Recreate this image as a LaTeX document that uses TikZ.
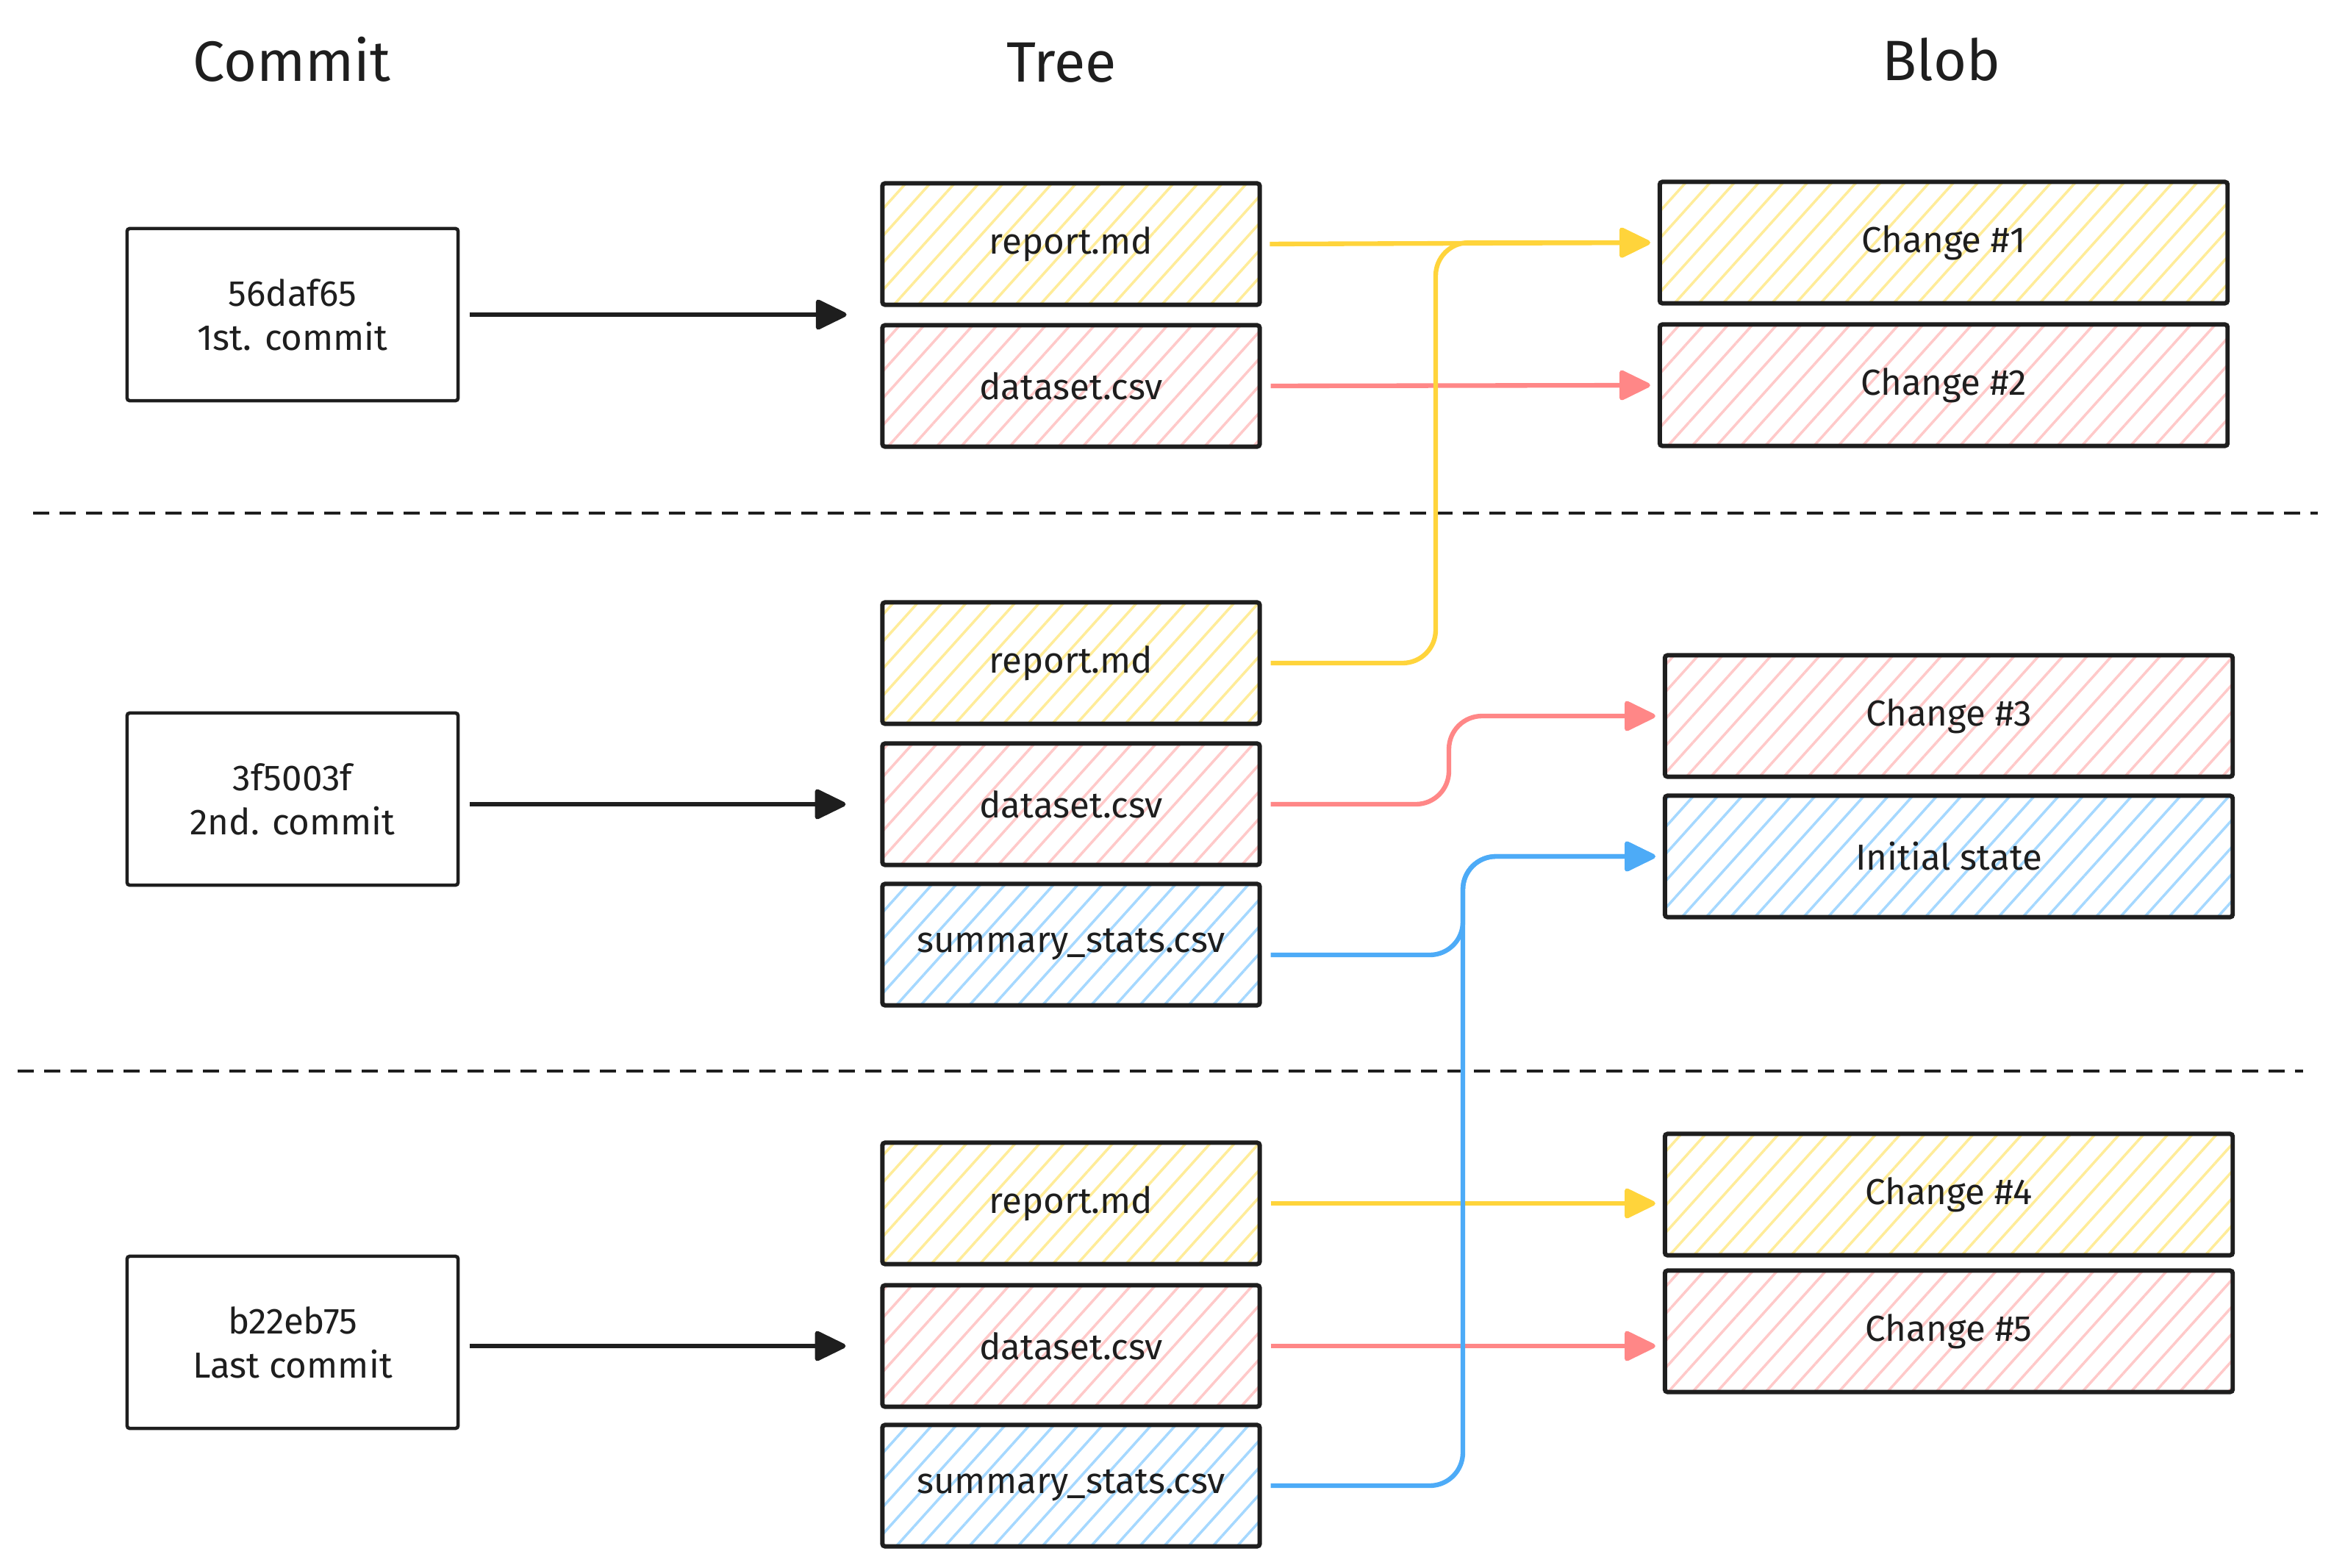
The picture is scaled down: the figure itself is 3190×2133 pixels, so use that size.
\documentclass[tikz,border=0pt]{standalone}
\usepackage{fontspec}
\setmainfont{Fira Sans}
\usepackage{tikz}
\usetikzlibrary{arrows.meta,patterns.meta,calc,positioning}
\definecolor{ink}{HTML}{1E1E1E}
\definecolor{yelline}{HTML}{FFD43B}
\definecolor{redline}{HTML}{FF8787}
\definecolor{blueline}{HTML}{4DABF7}
\definecolor{yelhatch}{HTML}{FFEC99}
\definecolor{redhatch}{HTML}{FFC9C9}
\definecolor{bluehatch}{HTML}{A5D8FF}

\begin{document}
\begin{tikzpicture}[
  x=0.01cm, y=-0.01cm,
  every node/.style={font=\fontsize{14}{17}\selectfont, text=ink, align=center},
  heading/.style={font=\fontsize{22}{26}\selectfont},
  commitbox/.style={draw=ink, line width=1.3pt, minimum width=4.5cm, minimum height=2.34cm, rounded corners=1pt},
  hatchbox/.style={draw=ink, line width=1.7pt, minimum height=1.65cm, rounded corners=1pt,
    pattern={Lines[angle=48,distance=7pt,line width=1pt]}, pattern color=#1},
  treebox/.style={hatchbox=#1, minimum width=5.13cm},
  blobbox/.style={hatchbox=#1, minimum width=7.72cm},
  link/.style={line width=1.8pt, -{Triangle[length=0.46cm,width=0.43cm,round]},
    shorten <=0.12cm, shorten >=0.1cm, rounded corners=0.45cm},
  sep/.style={draw=ink, line width=1.4pt, dash pattern=on 0.22cm off 0.14cm}
]
\useasboundingbox (0,0) rectangle (3190,2133);

\node[heading] (hcommit) at (397,81) {Commit};
\node[heading] (htree) at (1444,85) {Tree};
\node[heading] (hblob) at (2641,81) {Blob};

\node[commitbox] (c1) at (398,428) {56daf65\\1st. commit};
\node[commitbox] (c2) at (398,1087) {3f5003f\\2nd. commit};
\node[commitbox] (c3) at (398,1826) {b22eb75\\Last commit};

\node[treebox=yelhatch] (t1r) at (1457,332) {report.md};
\node[treebox=redhatch] (t1d) at (1457,525) {dataset.csv};
\node[treebox=yelhatch] (t2r) at (1457,902) {report.md};
\node[treebox=redhatch] (t2d) at (1457,1094) {dataset.csv};
\node[treebox=bluehatch] (t2s) at (1457,1285) {summary\_stats.csv};
\node[treebox=yelhatch] (t3r) at (1457,1637) {report.md};
\node[treebox=redhatch] (t3d) at (1457,1831) {dataset.csv};
\node[treebox=bluehatch] (t3s) at (1457,2021) {summary\_stats.csv};

\node[blobbox=yelhatch] (ch1) at (2644,330) {Change \#1};
\node[blobbox=redhatch] (ch2) at (2644,524) {Change \#2};
\node[blobbox=redhatch] (ch3) at (2651,974) {Change \#3};
\node[blobbox=bluehatch] (init) at (2651,1165) {Initial state};
\node[blobbox=yelhatch] (ch4) at (2651,1625) {Change \#4};
\node[blobbox=redhatch] (ch5) at (2651,1811) {Change \#5};

\draw[sep] (45,698) -- (3153,698);
\draw[sep] (24,1457) -- (3133,1457);

\draw[link, ink, shorten <=0.14cm, shorten >=0.47cm] (c1.east) -- (c1.east -| t1r.west);
\draw[link, ink, shorten <=0.14cm, shorten >=0.47cm] (c2.east |- t2d.west) -- (t2d.west);
\draw[link, ink, shorten <=0.14cm, shorten >=0.47cm] (c3.east |- t3d.west) -- (t3d.west);

\draw[link, yelline] (t1r.east) -- (ch1.west);
\draw[link, redline] (t1d.east) -- (ch2.west);
\draw[link, yelline] (t3r.east) -- (t3r.east -| ch4.west);
\draw[link, redline] (t3d.east) -- (t3d.east -| ch5.west);

\coordinate (ybus) at (1953,0);
\coordinate (rbus) at (1971,0);
\coordinate (bbus) at (1990,0);
\draw[link, yelline] (t2r.east) -| (ybus |- ch1.west) -- (ch1.west);
\draw[link, redline] (t2d.east) -| (rbus |- ch3.west) -- (ch3.west);
\draw[link, blueline] ([yshift=-0.14cm]t2s.east) -| (bbus |- init.west) -- (init.west);
\draw[link, blueline] (t3s.east) -| (bbus |- init.west) -- (init.west);
\end{tikzpicture}
\end{document}
